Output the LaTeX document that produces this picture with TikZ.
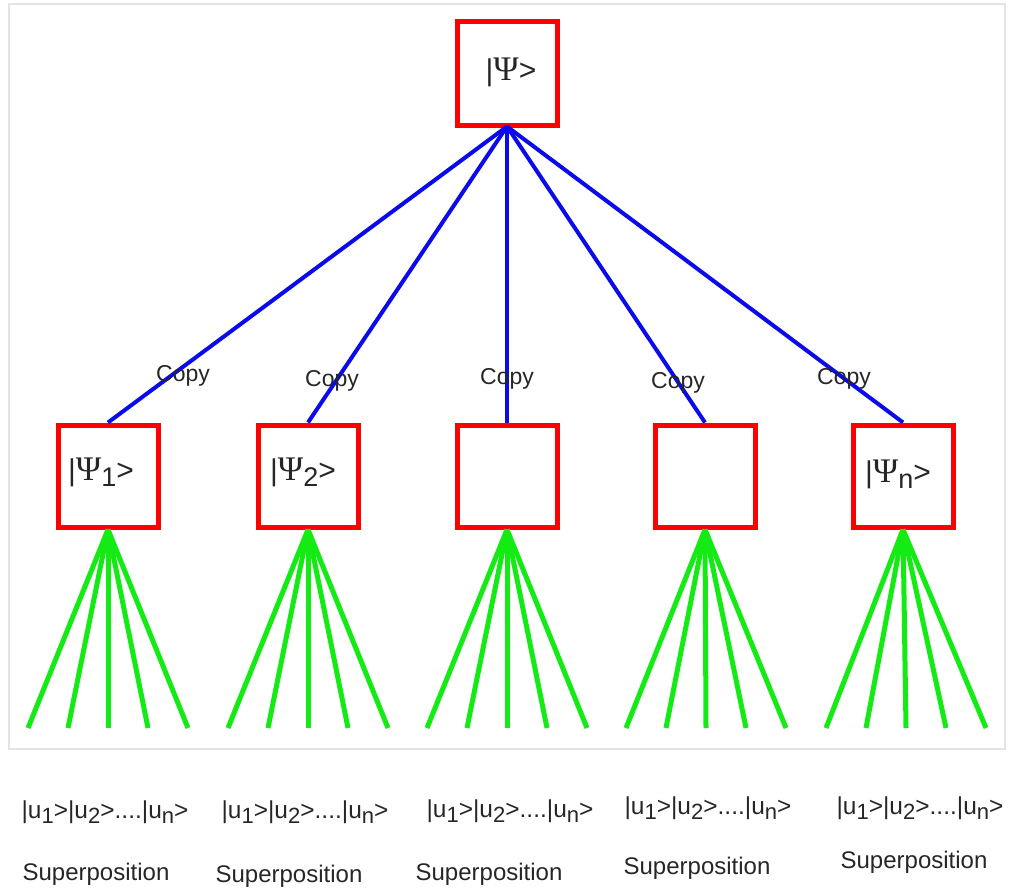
\documentclass[tikz,border=0pt]{standalone}
\usepackage{fontspec}
\setmainfont{Liberation Sans}
\newfontfamily\psifont{Liberation Serif}
\definecolor{boxred}{RGB}{255,0,0}
\definecolor{lineblue}{RGB}{10,10,235}
\definecolor{linegreen}{RGB}{20,235,20}
\definecolor{framegray}{RGB}{228,228,228}
\newcommand{\sbs}[1]{\raisebox{-0.2em}{\scalebox{0.9}{#1}}}
\newcommand{\urow}{|u\sbs{1}>|u\sbs{2}>....|u\sbs{n}>}
\newcommand{\psil}{\scalebox{1.15}{\psifont\char"03A8}}
\begin{document}
\begin{tikzpicture}[x=1pt,y=-1pt,
  qbox/.style={draw=boxred,line width=5pt,minimum width=100pt,minimum height=102pt,inner sep=0pt},
  copyedge/.style={draw=lineblue,line width=4pt},
  fanedge/.style={draw=linegreen,line width=5pt},
  copylbl/.style={font=\fontsize{23}{23}\selectfont,inner sep=0pt,text=black!85},
  psilbl/.style={font=\fontsize{30}{30}\selectfont,inner sep=0pt,text=black!85},
  urowlbl/.style={font=\fontsize{24.5}{24.5}\selectfont,inner sep=0pt,text=black!85},
  suplbl/.style={font=\fontsize{24}{24}\selectfont,inner sep=0pt,text=black!85}]
\useasboundingbox (0,0) rectangle (1011,890);
\draw[framegray,line width=2pt] (9,4) rectangle (1005,749);
% boxes
\node[qbox,minimum height=104pt] (top) at (507,74) {};
\node[qbox] (b1) at (108,476) {};
\node[qbox] (b2) at (308,476) {};
\node[qbox] (b3) at (507,476) {};
\node[qbox] (b4) at (705,476) {};
\node[qbox] (b5) at (903,476) {};
% blue copy edges
\foreach \b in {b1,b2,b3,b4,b5}{
  \draw[copyedge] ([yshift=2pt]top.south) -- (\b.north);
}
% green fans
\foreach \b/\x in {b1/108,b2/308,b3/507,b4/706,b5/906}{
  \foreach \d [count=\i] in {-80,-40,0,40,80}{
    \coordinate (\b e\i) at (\x+\d,728);
    \draw[fanedge] (\b.south) -- (\b e\i);
  }
}
% labels
\node[psilbl] (ltop) at (511,72) {|\psil>};
\node[psilbl] (l1) at (101,472) {|\psil\sbs{1}>};
\node[psilbl] (l2) at (303,472) {|\psil\sbs{2}>};
\node[psilbl] (l5) at (898,474) {|\psil\sbs{n}>};
\node[copylbl] (c1) at (183,376) {Copy};
\node[copylbl] (c2) at (332,381) {Copy};
\node[copylbl] (c3) at (507,379) {Copy};
\node[copylbl] (c4) at (678,383) {Copy};
\node[copylbl] (c5) at (844,379) {Copy};
\node[urowlbl] (u1) at (105,812) {\urow};
\node[urowlbl] (u2) at (305,812) {\urow};
\node[urowlbl] (u3) at (510,811) {\urow};
\node[urowlbl] (u4) at (708,808) {\urow};
\node[urowlbl] (u5) at (920,808) {\urow};
\node[suplbl] (s1) at (96,874) {Superposition};
\node[suplbl] (s2) at (289,876) {Superposition};
\node[suplbl] (s3) at (489,874) {Superposition};
\node[suplbl] (s4) at (697,868) {Superposition};
\node[suplbl] (s5) at (914,862) {Superposition};
\end{tikzpicture}
\end{document}
